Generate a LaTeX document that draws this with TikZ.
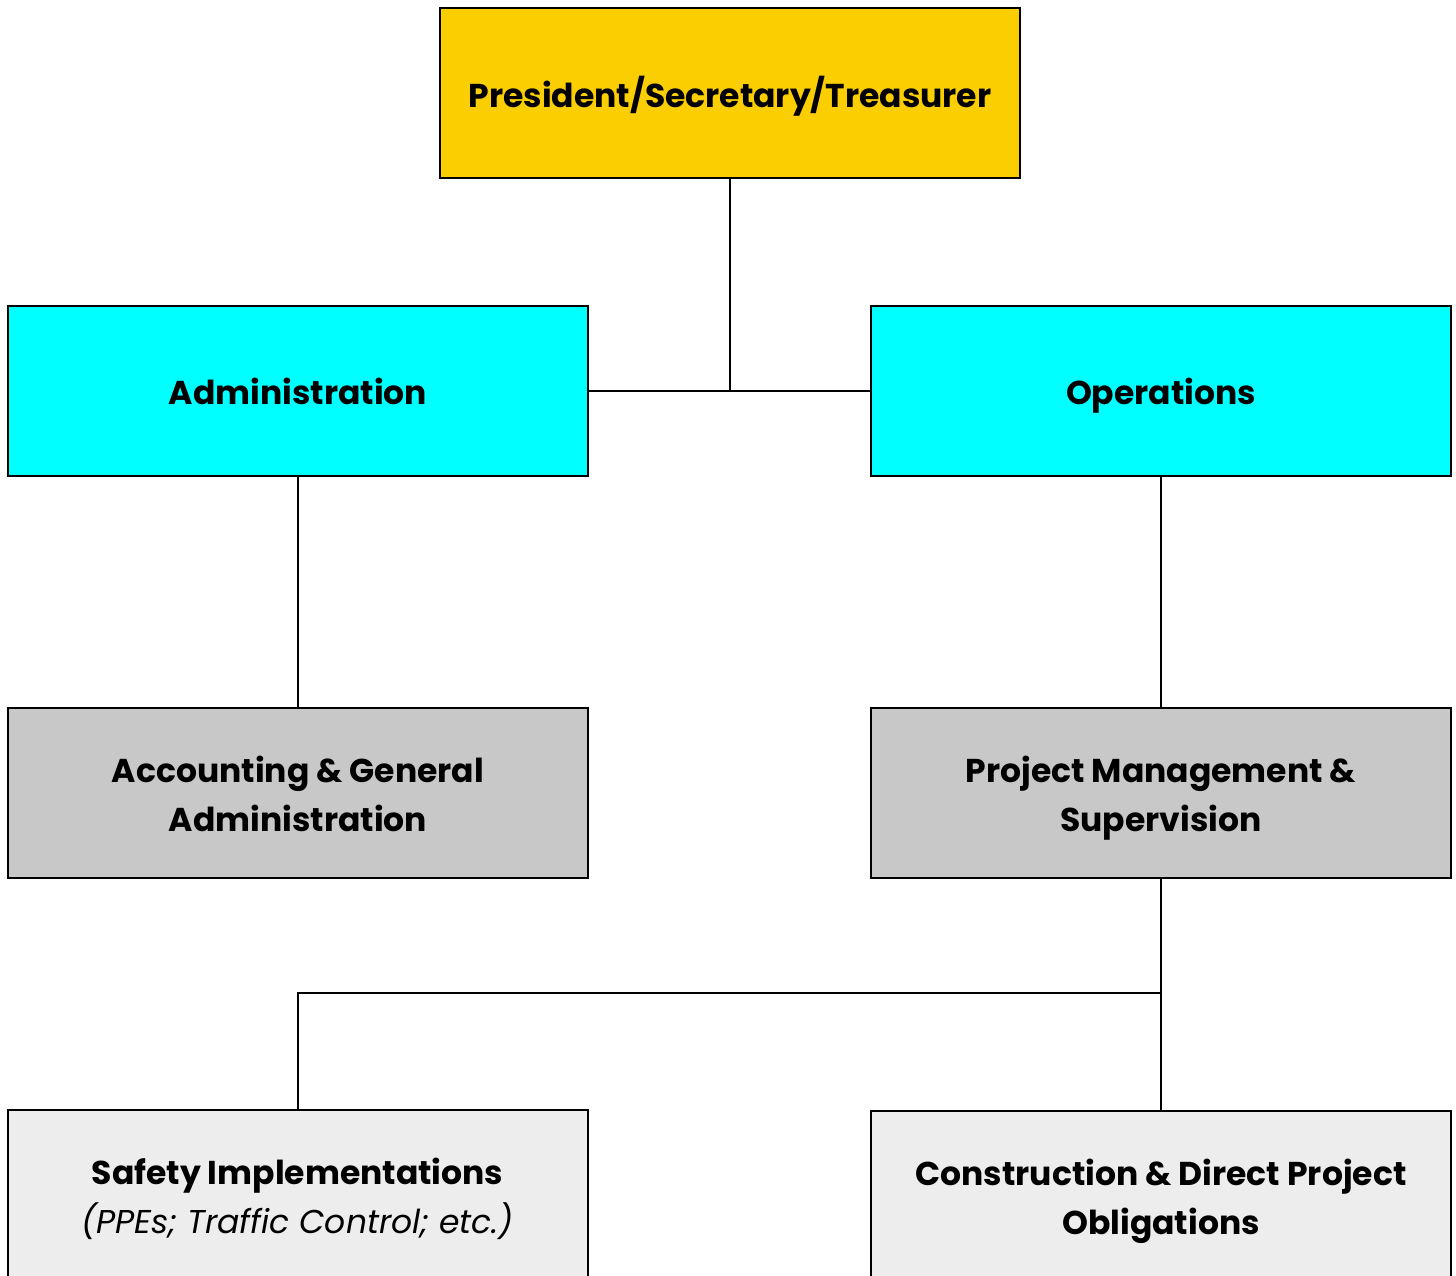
\documentclass[tikz,border=0pt]{standalone}
\usepackage{fontspec}
\setmainfont{Poppins}
\definecolor{gold}{HTML}{FACE00}
\definecolor{aqua}{HTML}{00FFFF}
\definecolor{midgray}{HTML}{C8C8C8}
\definecolor{lightgray}{HTML}{EDEDED}
\newcommand\linestrut{\rule[-10.2pt]{0pt}{49pt}}
\begin{document}
\begin{tikzpicture}[x=1pt,y=-1pt,
  box/.style={draw=black,line width=2pt,minimum width=580pt,minimum height=170pt,
    inner sep=0pt,align=center,font=\fontsize{33}{49}\selectfont\bfseries},
  link/.style={draw=black,line width=2pt}]
\useasboundingbox (0,0) rectangle (1456,1276);
\clip (0,0) rectangle (1456,1276);
\node[box,fill=gold] (pres) at (730,93) {\linestrut President/Secretary/Treasurer};
\node[box,fill=aqua] (admin) at (298,390.5) {\linestrut Administration};
\node[box,fill=aqua] (ops) at (1161,390.5) {\linestrut Operations};
\node[box,fill=midgray] (acct) at (298,793) {\linestrut Accounting \& General\\\linestrut Administration};
\node[box,fill=midgray] (pm) at (1161,793) {\linestrut Project Management \&\\\linestrut Supervision};
\node[box,fill=lightgray] (safe) at (297.5,1195) {\linestrut Safety Implementations\\\linestrut{\mdseries\itshape (PPEs; Traffic Control; etc.)}};
\node[box,fill=lightgray] (cons) at (1161,1196) {\linestrut Construction \& Direct Project\\\linestrut Obligations};
\coordinate (j1) at (730,390);
\coordinate (j2) at (1161,993);
\coordinate (j3) at (297.5,993);
\draw[link] (pres.south) -- (j1);
\draw[link] (admin.east) -- (ops.west);
\draw[link] (admin.south) -- (acct.north);
\draw[link] (ops.south) -- (pm.north);
\draw[link] (pm.south) -- (cons.north);
\draw[link] (j2) -- (j3) -- (safe.north);
\end{tikzpicture}
\end{document}
